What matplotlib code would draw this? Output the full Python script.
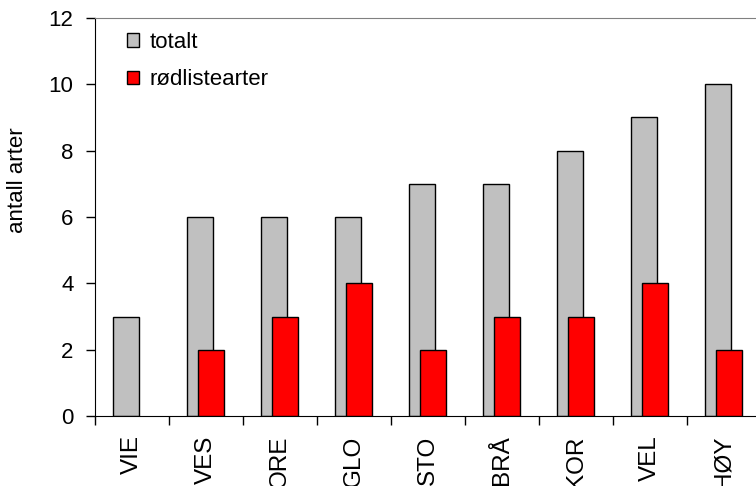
import numpy as np
import matplotlib
matplotlib.use("Agg")
import matplotlib.pyplot as plt
from matplotlib.ticker import FixedLocator
from matplotlib.patches import Patch

plt.rcParams['font.family'] = ['Liberation Sans', 'DejaVu Sans']

steder = ['VIE', 'VES', 'ORE', 'GLO', 'STO', 'BRÅ', 'KOR', 'VEL', 'HØY']
totalt = [3, 6, 6, 6, 7, 7, 8, 9, 10]
rodliste = [0, 2, 3, 4, 2, 3, 3, 4, 2]

fig = plt.figure(figsize=(7.56, 4.86), dpi=100)
ax = fig.add_axes([95 / 756, 70 / 486, 666 / 756, 398 / 486])

x = np.arange(len(steder))
bredde = 0.35
ax.bar(x - 0.08, totalt, bredde, color='#C0C0C0', edgecolor='black', linewidth=1, zorder=2)
# ingen kant på søyler med verdi 0
kant = [1 if v > 0 else 0 for v in rodliste]
ax.bar(x + 0.07, rodliste, bredde, color='#FF0000', edgecolor='black', linewidth=kant, zorder=3)

ax.set_xlim(-0.5, len(steder) - 0.5)
ax.set_ylim(0, 12)
ax.set_yticks(range(0, 13, 2))
ax.tick_params(axis='y', labelsize=16, length=6.5, pad=9, direction='out', width=1)

ax.set_xticks(x)
ax.set_xticklabels(steder, rotation=90, fontsize=17.5, va='top')
ax.tick_params(axis='x', which='major', length=0, pad=14)
ax.xaxis.set_minor_locator(FixedLocator(np.arange(-0.5, len(steder), 1.0)))
ax.tick_params(axis='x', which='minor', length=6.5, width=1, direction='out')

ax.set_ylabel('antall arter', fontsize=16)
ax.yaxis.set_label_coords(-0.1, 0.593)

ax.spines['right'].set_visible(False)
ax.spines['top'].set_color('#808080')
ax.spines['left'].set_color('black')
ax.spines['bottom'].set_color('black')

handles = [Patch(facecolor='#C0C0C0', edgecolor='black', linewidth=1),
           Patch(facecolor='#FF0000', edgecolor='black', linewidth=1)]
ax.legend(handles, ['totalt', 'rødlistearter'], loc='upper left', bbox_to_anchor=(0.048, 0.965),
          frameon=False, fontsize=16, borderpad=0, borderaxespad=0, handlelength=0.55,
          handleheight=0.55, handletextpad=0.45, labelspacing=0.73)

fig.savefig('out.png', dpi=100)
